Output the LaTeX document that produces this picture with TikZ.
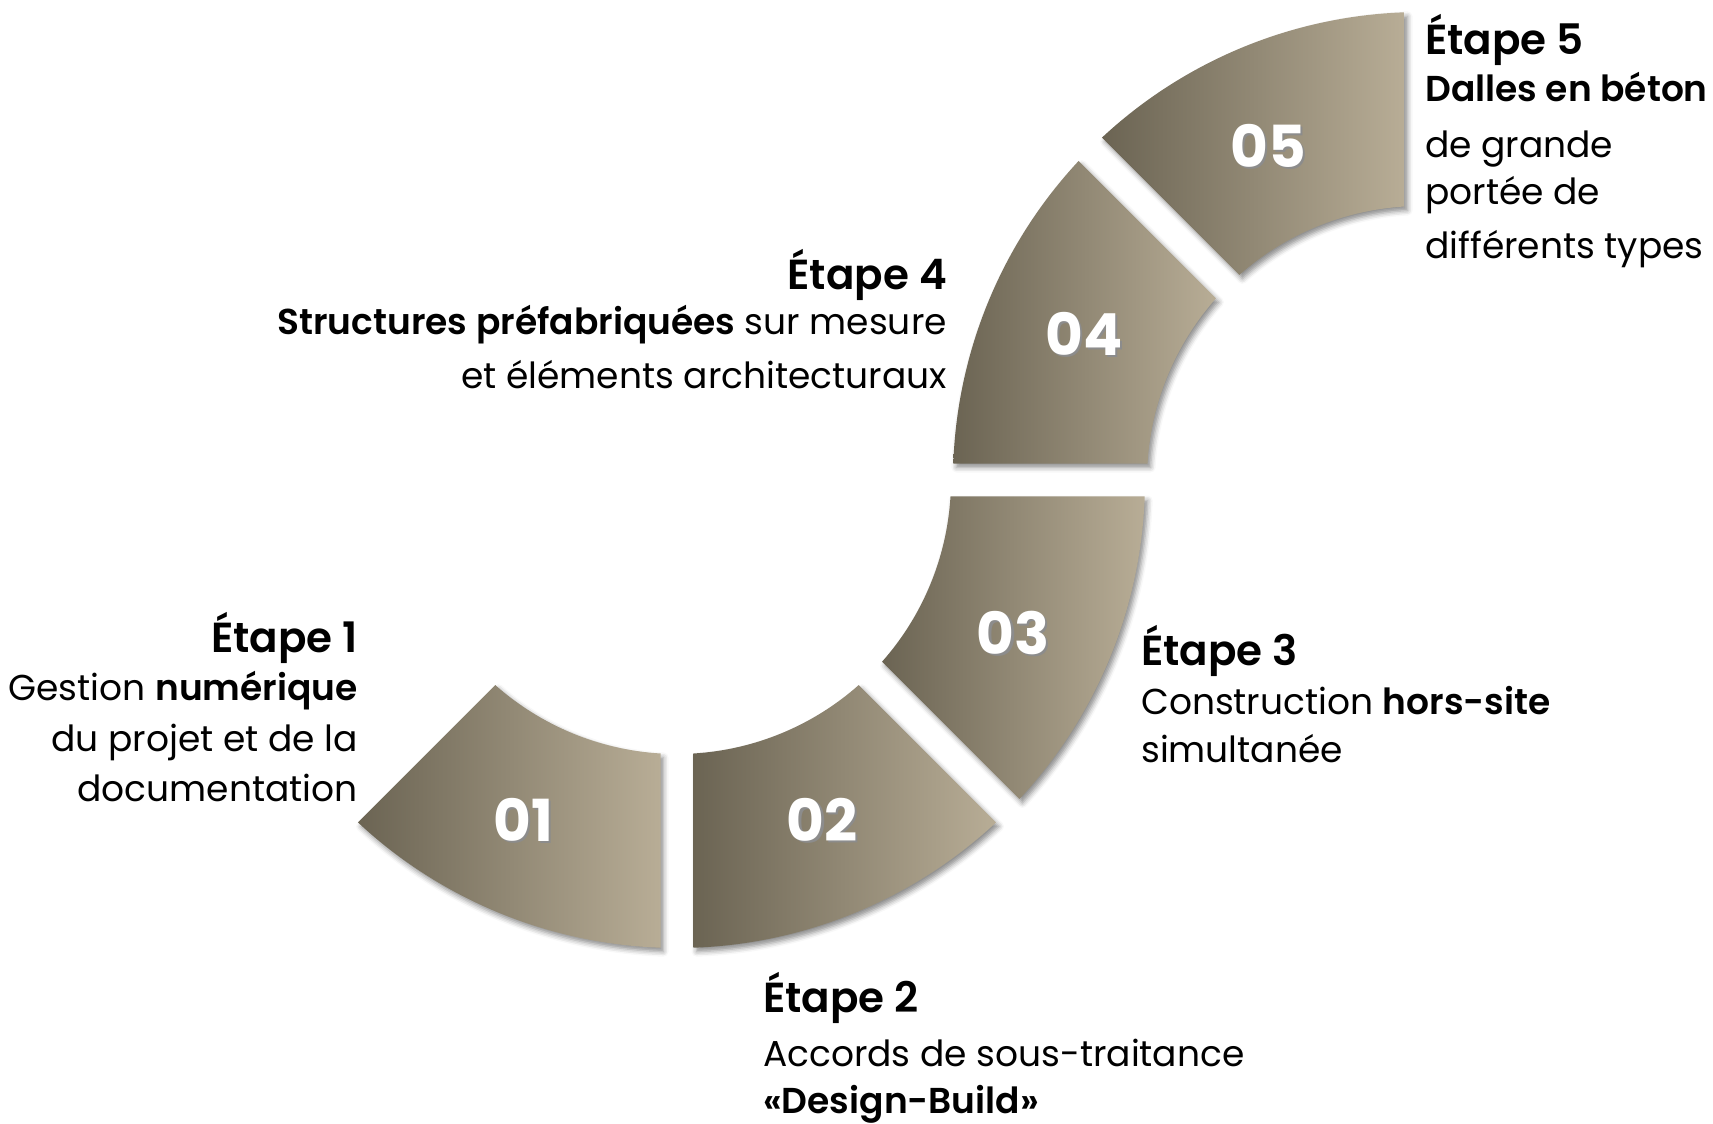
\documentclass[tikz,border=0pt]{standalone}
\usepackage{fontspec}
\setmainfont{Poppins}[BoldFont={Poppins SemiBold}]
\newfontfamily\numfont{Poppins Bold}
\usetikzlibrary{calc,shadows.blur}

\definecolor{stonedark}{HTML}{6B6453}
\definecolor{stonelight}{HTML}{B8AD96}

% one piece of a ring: centre, start angle, end angle
\newcommand{\ringpiece}[3]{%
  ($(#1)+({#2+2.02}:468pt)$) arc[start angle={#2+2.02}, end angle={#3-2.02}, radius=468pt]
  -- ($(#1)+({#3-3.45}:274pt)$) arc[start angle={#3-3.45}, end angle={#2+3.45}, radius=274pt] -- cycle}
\newcommand{\numshadow}[1]{\rlap{\hspace{2.5pt}\raisebox{-2.5pt}{\color{black!45}#1}}#1}

\tikzset{
  piece/.style={left color=stonedark, right color=stonelight,
    blur shadow={shadow xshift=3pt, shadow yshift=-4pt, shadow blur radius=5pt, shadow opacity=45}},
  num/.style={text=white, font=\fontsize{58}{60}\selectfont\numfont, inner sep=0pt},
  etape/.style={font=\fontsize{36}{50}\selectfont, inner sep=0pt},
}
\newcommand{\headline}[1]{{\fontsize{42}{50}\selectfont\bfseries #1}}

\begin{document}
\begin{tikzpicture}[x=1pt, y=1pt]
\useasboundingbox (0,0) rectangle (1713,-1124);
\coordinate (lc) at (677,-480);
\coordinate (uc) at (1421,-480);

\path[piece] \ringpiece{lc}{225}{270};
\path[piece] \ringpiece{lc}{270}{315};
\path[piece] \ringpiece{lc}{315}{360};
\path[piece] \ringpiece{uc}{135}{180};
\path[piece] \ringpiece{uc}{90}{135};

\node[num] (n1) at (523,-821) {\numshadow{01}};
\node[num] (n2) at (822,-821) {\numshadow{02}};
\node[num] (n3) at (1013,-634) {\numshadow{03}};
\node[num] (n4) at (1084,-335) {\numshadow{04}};
\node[num] (n5) at (1268,-147) {\numshadow{05}};

\node[etape, anchor=base east, align=right] (e1) at (358,-801)
  {\headline{Étape 1}\\[-2pt] Gestion \textbf{numérique}\\[1pt] du projet et de la\\ documentation};
\node[etape, anchor=base west, align=left] (e2) at (763,-1113)
  {\headline{Étape 2}\\[4pt] Accords de sous-traitance\\[-3pt] \textbf{«Design-Build»}};
\node[etape, anchor=base west, align=left] (e3) at (1141,-762)
  {\headline{Étape 3}\\[-1pt] Construction \textbf{hors-site}\\[-2pt] simultanée};
\node[etape, anchor=base east, align=right] (e4) at (947,-388)
  {\headline{Étape 4}\\[-5pt] \textbf{Structures préfabriquées} sur mesure\\[4pt] et éléments architecturaux};
\node[etape, anchor=base west, align=left] (e5) at (1425,-258)
  {\headline{Étape 5}\\[-3pt] \textbf{Dalles en béton}\\[6pt] de grande\\[-3pt] portée de\\[4pt] différents types};
\end{tikzpicture}
\end{document}
